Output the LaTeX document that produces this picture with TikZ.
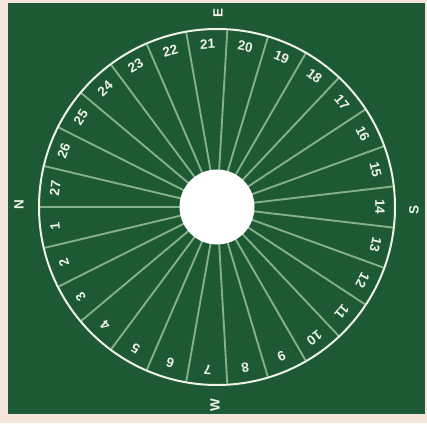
\documentclass[tikz,border=0pt]{standalone}
\usepackage{fontspec}
\newfontfamily\dialfont{Liberation Sans}
\usepackage{xcolor}
\usepackage{tikz}
\definecolor{boardgreen}{HTML}{1D5A33}
\definecolor{spokegreen}{HTML}{86B08A}
\definecolor{rimwhite}{HTML}{EEF3E6}
\definecolor{pagebeige}{HTML}{F4E6DB}

\begin{document}
\begin{tikzpicture}[x=0.03cm,y=0.03cm,
    every node/.style={font=\dialfont\bfseries\fontsize{11.5}{12}\selectfont,text=rimwhite,inner sep=0pt},
    spoke/.style={draw=spokegreen,line width=1.6pt},
    rim/.style={draw=rimwhite,line width=1.7pt}]
        \fill[pagebeige] (-217,-216) rectangle (210,207);
        \useasboundingbox (-217,-216) rectangle (210,207);
        \fill[boardgreen] (-209,-207) rectangle (208,204);
        % spokes and rim
        \foreach \i in {0,...,26}
          \draw[spoke] (180+\i*360/27:37) -- (180+\i*360/27:177);
        \draw[rim] (0,0) circle (178);
        \fill[white] (0,0) circle (37.5);
        \node (hub) at (0,0) {};
        % sector numbers
        \foreach \k [evaluate=\k as \a using 180+(\k-0.5)*360/27] in {1,...,27}
          \node[rotate=\a-90] (n\k) at (\a:163) {\k};
        % directions
        \node[rotate=90] (east) at (1,194) {E};
        \node[rotate=90] (south) at (197,-3) {S};
        \node[rotate=90] (west) at (-2,-198) {W};
        \node[rotate=90] (north) at (-198,2) {N};
      \end{tikzpicture}
\end{document}
